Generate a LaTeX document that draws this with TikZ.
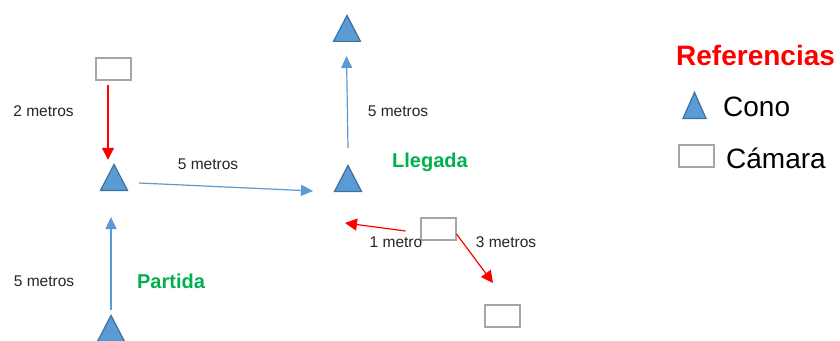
\documentclass[tikz,border=0pt]{standalone}
\usepackage{fontspec}
\setmainfont{Liberation Sans}
\usetikzlibrary{arrows.meta,shapes.geometric}
\definecolor{conefill}{HTML}{5B9BD5}
\definecolor{coneline}{HTML}{41719C}
\definecolor{camline}{HTML}{A6A6A6}
\definecolor{arrowblue}{HTML}{5B9BD5}
\definecolor{labgreen}{HTML}{00B050}
\begin{document}
\begin{tikzpicture}[x=1pt,y=-1pt,
  cone/.style={isosceles triangle, shape border rotate=90, isosceles triangle stretches,
    minimum width=27pt, minimum height=26pt, inner sep=0pt, draw=coneline, fill=conefill, line width=1.2pt, anchor=south},
  camera/.style={draw=camline, line width=2pt, fill=white, minimum width=35pt, minimum height=22pt, inner sep=0pt},
  lab/.style={font=\fontsize{15.5}{18}\selectfont, text=black!85, inner sep=0pt},
  place/.style={font=\fontsize{20}{24}\selectfont\bfseries, text=labgreen, inner sep=0pt},
  legend/.style={font=\fontsize{28}{32}\selectfont, text=black, inner sep=0pt, anchor=west},
  redarrow/.style={draw=red, line width=1.2pt, -{Triangle[length=12pt,width=12pt]}},
  bluearrow/.style={draw=arrowblue, line width=1.2pt, -{Triangle[length=12pt,width=11pt]}}]
\useasboundingbox[fill=white] (0,0) rectangle (840,340);

% cones
\node[cone] (T1) at (347,42) {};
\node[cone] (T2) at (114,191) {};
\node[cone] (T3) at (348,192) {};
\node[cone] (T4) at (111,342) {};
% cameras
\node[camera] (R1) at (113.5,68.5) {};
\node[camera] (R2) at (438,229) {};
\node[camera] (R3) at (502.5,316) {};

% connectors
\draw[redarrow] ([xshift=-5.5pt,yshift=-4pt]R1.south) -- ([xshift=-6pt,yshift=3pt]T2.north);
\draw[bluearrow] ([shift={(25,-8)}]T2.south) -- ([shift={(-35,-1)}]T3.south);
\draw[bluearrow] ([yshift=16pt]T3.north) -- ([xshift=-0.5pt,yshift=-14pt]T1.south);
\draw[bluearrow] ([yshift=4pt]T4.north) -- ([xshift=-3pt,yshift=-26pt]T2.south);
\coordinate (F1) at (345,223);
\draw[redarrow] ([shift={(-14,2)}]R2.west) -- (F1);
\draw[redarrow] ([shift={(0,5)}]R2.east) -- ([shift={(-9.5,-21)}]R3.north);

% labels
\node[lab] (L1) at (43.5,111.5) {2 metros};
\node[lab] (L2) at (208,164) {5 metros};
\node[lab] (L3) at (398,111.5) {5 metros};
\node[lab] (L4) at (396,242) {1 metro};
\node[lab] (L5) at (506,242) {3 metros};
\node[lab] (L6) at (44,281.5) {5 metros};
\node[place] (P1) at (430,162) {Llegada};
\node[place] (P2) at (171,281.5) {Partida};

% legend
\node[font=\fontsize{28}{32}\selectfont\bfseries, text=red, inner sep=0pt, anchor=west] (REF) at (676,55) {Referencias};
\node[cone, minimum width=23pt, minimum height=26pt] (LT) at (694.5,119) {};
\node[legend] (LC) at (723,107) {Cono};
\node[camera] (LR) at (696,155.5) {};
\node[legend] (LK) at (726,158) {Cámara};
\end{tikzpicture}
\end{document}
